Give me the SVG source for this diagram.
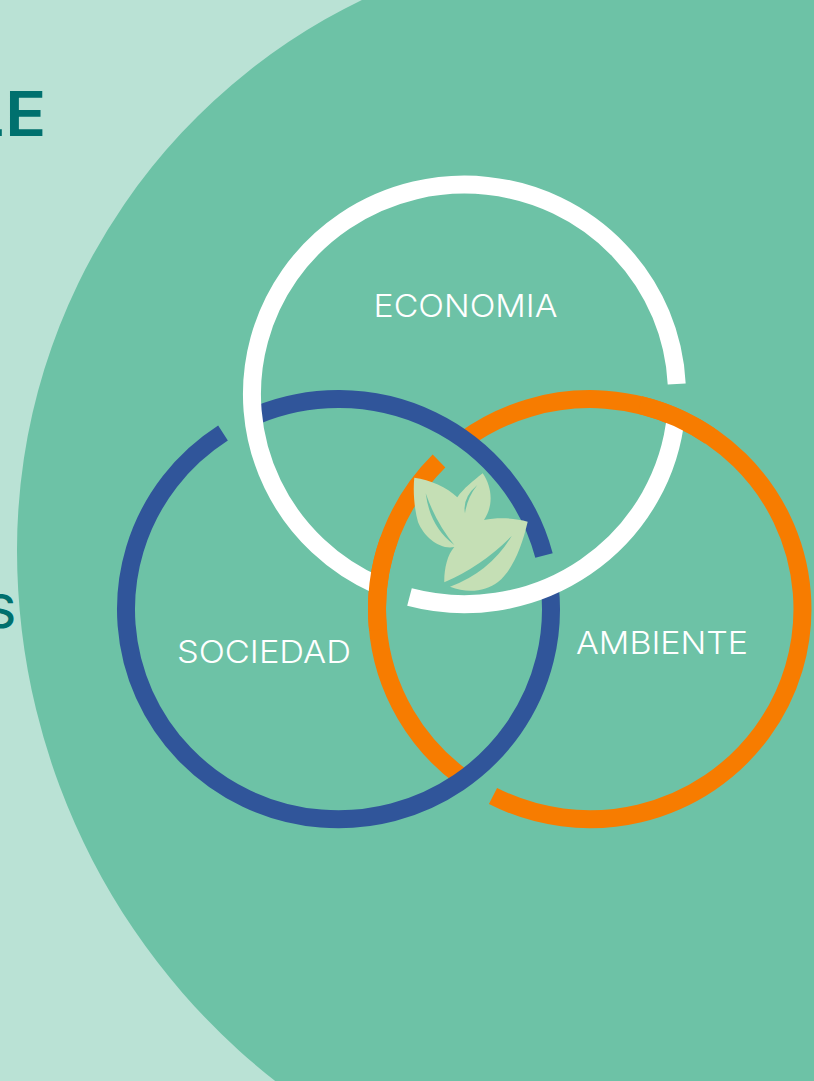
<svg xmlns="http://www.w3.org/2000/svg" width="814" height="1081" viewBox="0 0 814 1081">
<style>
.ring{fill:none;stroke-width:18;stroke-linecap:butt}
.w{stroke:#ffffff}.b{stroke:#30559A}.o{stroke:#F77C00}
.lab{font-family:"Inter","Liberation Sans",sans-serif;font-weight:300;font-size:31.5px;fill:#ffffff}
.head{font-family:"Inter","Liberation Sans",sans-serif;fill:#00706E}
.slit{fill:#6DC2A6}
</style>
<rect id="background" width="814" height="1081" fill="#BAE2D5"/>
<path id="disc" fill="#6DC2A6" d="M17 550A611 611 0 0 1 408 -20L834 -20L834 1101L302 1101A675 675 0 0 1 17 550Z"/>
<text id="title-fragment" class="head" transform="scale(1.1 1)" x="-31 4.600" y="136" font-size="62" font-weight="600">LE</text>
<text id="list-fragment" class="head" x="-15" y="627.500" font-size="47" font-weight="500" textLength="31" lengthAdjust="spacingAndGlyphs">S</text>
<g id="connectors">
<path class="ring o" d="M439 461A212.500 210 0 0 0 463 778"/>
<path class="ring o" d="M493 796A212.500 210 0 1 0 464 440"/>
<path class="ring b" d="M544 555.500A212.500 210 0 0 0 255 416"/>
<path class="ring b" d="M223 433A212.500 210 0 1 0 549.900 588"/>
<path class="ring w" d="M676.700 384A212.500 209.500 0 1 0 378 585.500"/>
<path class="ring w" d="M409.500 597A212.500 209.500 0 0 0 676 415"/>
<path class="ring o" d="M388.800 540A212.500 210 0 0 0 378.100 630"/>
<path class="ring o" d="M640 405A212.500 210 0 0 1 710 436"/>
</g>
<g id="economia"><text class="lab" x="373.500" y="317" textLength="184" lengthAdjust="spacingAndGlyphs">ECONOMIA</text></g>
<g id="sociedad"><text class="lab" x="177" y="663" textLength="174" lengthAdjust="spacingAndGlyphs">SOCIEDAD</text></g>
<g id="ambiente"><text class="lab" x="576" y="654" textLength="172" lengthAdjust="spacingAndGlyphs">AMBIENTE</text></g>
<g id="leaves">
<path fill="#C5DFB5" d="M414.300 477.700C430 480 447 487 457.300 497.300C464 488 473 481 482.700 473.300C492 487 494 505 484 520C498 517 515 518 527.700 521.700C522 546 513 570 498 582C486 591 468 594 450 586.700Q490 572 511.700 536Q482 566 444.300 582.300C444 570 447 555 454.300 547C440 550 424 537 418 522C414 508 413 490 414.300 477.700Z"/>
<path class="slit" d="M425.700 493.300Q430 527 454.300 545Q436 523 425.700 493.300Z"/>
<path class="slit" d="M477.300 485Q462 498 465 513.300Q467 498 477.300 485Z"/>
</g>
</svg>
